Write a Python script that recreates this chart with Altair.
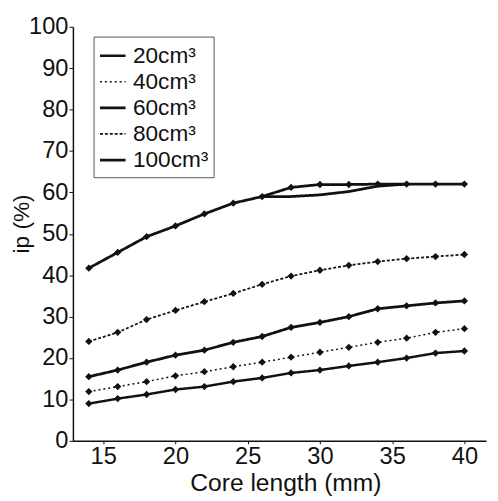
import altair as alt
import pandas as pd

core_length = [14, 16, 18, 20, 22, 24, 26, 28, 30, 32, 34, 36, 38, 40]

s20 = [9.0, 10.2, 11.2, 12.4, 13.1, 14.3, 15.2, 16.4, 17.1, 18.1, 19.0, 20.0, 21.2, 21.7]
s40 = [11.9, 13.1, 14.3, 15.7, 16.7, 17.9, 19.0, 20.2, 21.4, 22.6, 23.8, 24.8, 26.2, 27.1]
s60 = [15.5, 17.1, 19.0, 20.7, 21.9, 23.8, 25.2, 27.4, 28.6, 30.0, 31.9, 32.6, 33.3, 33.8]
s80 = [24.0, 26.2, 29.3, 31.5, 33.6, 35.6, 37.8, 39.8, 41.2, 42.4, 43.3, 44.0, 44.5, 45.0]
s100 = [41.7, 45.5, 49.3, 51.9, 54.8, 57.4, 59.0, 61.2, 61.9, 61.9, 62.0, 62.0, 62.0, 62.0]
# lower branch of the top curve that splits and rejoins
s100b_x = [26, 28, 30, 32, 34, 36]
s100b = [59.0, 59.0, 59.4, 60.2, 61.5, 62.0]

series_names = ["20cm³", "40cm³", "60cm³", "80cm³", "100cm³"]
series_values = [s20, s40, s60, s80, s100]

rows = []
for name, vals in zip(series_names, series_values):
    for x, v in zip(core_length, vals):
        rows.append({"x": x, "y": v, "series": name, "part": name + "a"})
for x, v in zip(s100b_x, s100b):
    rows.append({"x": x, "y": v, "series": "100cm³", "part": "100cm³b"})
df = pd.DataFrame(rows)
pts = df[df["part"].str.endswith("a")]

font = "Liberation Sans"

xs = alt.X("x:Q", scale=alt.Scale(domain=[12.9, 41.5], nice=False, zero=False),
           axis=alt.Axis(values=[15, 20, 25, 30, 35, 40], title="Core length (mm)",
                         grid=False, tickSize=3, labelPadding=1, titlePadding=2,
                         titleX=216))
ys = alt.Y("y:Q", scale=alt.Scale(domain=[0, 100], nice=False),
           axis=alt.Axis(values=list(range(0, 101, 10)), title="ip (%)",
                         grid=False, tickSize=4, labelPadding=1,
                         titleX=-40, titleY=200, titleFontSize=23))

legend = alt.Legend(title=None, orient="none", legendX=21, legendY=10,
                    symbolType="stroke", symbolSize=676, labelFontSize=23,
                    labelFont=font, labelColor="#111", strokeColor="#555",
                    padding=5, rowPadding=0, labelOffset=6, symbolStrokeColor="#111")

lines = alt.Chart(df).mark_line(color="#111").encode(
    x=xs, y=ys,
    detail="part:N",
    strokeDash=alt.StrokeDash("series:N", sort=series_names,
                              scale=alt.Scale(domain=series_names,
                                              range=[[1, 0], [2, 3], [1, 0], [3, 2], [1, 0]]),
                              legend=legend),
    strokeWidth=alt.StrokeWidth("series:N", sort=series_names,
                                scale=alt.Scale(type="ordinal", domain=series_names,
                                                range=[2.5, 1.5, 2.8, 1.8, 2.8]),
                                legend=legend),
)

points = alt.Chart(pts).mark_point(shape="diamond", filled=True, color="#111", size=55, opacity=1).encode(
    x="x:Q", y="y:Q"
)

chart = alt.layer(lines, points).properties(
    width=420, height=421,
    padding={"left": 66, "top": 15, "right": 4, "bottom": 52},
    autosize=alt.AutoSizeParams(type="none"),
).configure_view(stroke=None).configure_axis(
    domainColor="#111", domainWidth=1.5, tickColor="#111",
    labelFont=font, labelFontSize=24, labelColor="#111",
    titleFont=font, titleFontSize=25, titleFontWeight="normal", titleColor="#111",
)

chart.save("out.html", embed_options={"renderer": "svg", "actions": False})
